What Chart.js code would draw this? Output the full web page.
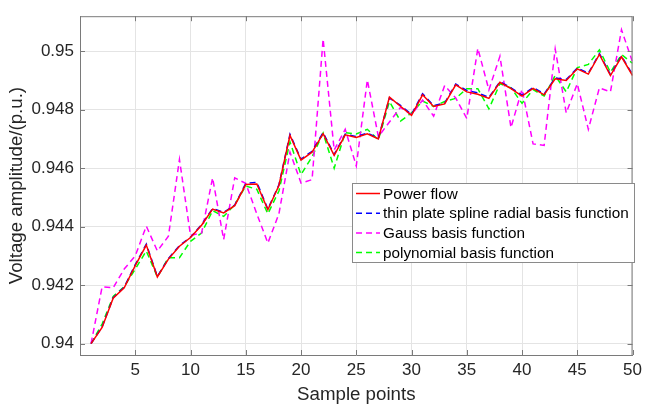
<!DOCTYPE html>
<html>
<head>
<meta charset="utf-8">
<script src="https://cdn.jsdelivr.net/npm/chart.js@4"></script>
<style>
  html, body { margin: 0; padding: 0; background: #fff; }
  canvas { display: block; }
</style>
</head>
<body>
<canvas id="chart" width="647" height="409"></canvas>
<script>
// Sample indices on the x axis
const samplePoints = [1, 2, 3, 4, 5, 6, 7, 8, 9, 10, 11, 12, 13, 14, 15, 16, 17, 18, 19, 20,
  21, 22, 23, 24, 25, 26, 27, 28, 29, 30, 31, 32, 33, 34, 35, 36, 37, 38, 39, 40,
  41, 42, 43, 44, 45, 46, 47, 48, 49, 50];

const powerFlow = [0.94000, 0.94055, 0.94155, 0.94191, 0.94267, 0.94337, 0.94228, 0.94289, 0.94333, 0.94363,
  0.94405, 0.94460, 0.94447, 0.94472, 0.94544, 0.94546, 0.94458, 0.94541, 0.94712, 0.94628,
  0.94655, 0.94718, 0.94644, 0.94714, 0.94705, 0.94718, 0.94700, 0.94843, 0.94812, 0.94781,
  0.94851, 0.94811, 0.94820, 0.94885, 0.94861, 0.94853, 0.94839, 0.94894, 0.94872, 0.94847,
  0.94873, 0.94851, 0.94906, 0.94900, 0.94940, 0.94922, 0.94989, 0.94917, 0.94981, 0.94917];

const thinPlate = [0.94000, 0.94057, 0.94157, 0.94193, 0.94270, 0.94340, 0.94230, 0.94291, 0.94335, 0.94364,
  0.94407, 0.94462, 0.94449, 0.94474, 0.94548, 0.94552, 0.94460, 0.94543, 0.94716, 0.94631,
  0.94658, 0.94722, 0.94647, 0.94717, 0.94708, 0.94720, 0.94703, 0.94840, 0.94815, 0.94784,
  0.94855, 0.94814, 0.94823, 0.94888, 0.94866, 0.94858, 0.94842, 0.94896, 0.94875, 0.94850,
  0.94876, 0.94854, 0.94909, 0.94903, 0.94943, 0.94925, 0.94992, 0.94920, 0.94984, 0.94920];

const gaussBasis = [0.94000, 0.94194, 0.94191, 0.94255, 0.94300, 0.94402, 0.94317, 0.94367, 0.94630, 0.94370,
  0.94378, 0.94567, 0.94356, 0.94567, 0.94548, 0.94444, 0.94344, 0.94444, 0.94655, 0.94549,
  0.94561, 0.95042, 0.94662, 0.94733, 0.94608, 0.94902, 0.94708, 0.94758, 0.94808, 0.94783,
  0.94833, 0.94778, 0.94883, 0.94840, 0.94770, 0.95010, 0.94868, 0.94983, 0.94739, 0.94870,
  0.94683, 0.94678, 0.95008, 0.94789, 0.94889, 0.94733, 0.94875, 0.94861, 0.95074, 0.94963];

const polynomialBasis = [0.94000, 0.94067, 0.94161, 0.94195, 0.94255, 0.94317, 0.94228, 0.94294, 0.94294, 0.94350,
  0.94378, 0.94455, 0.94435, 0.94475, 0.94539, 0.94528, 0.94444, 0.94522, 0.94690, 0.94578,
  0.94639, 0.94720, 0.94600, 0.94722, 0.94717, 0.94733, 0.94697, 0.94828, 0.94761, 0.94789,
  0.94830, 0.94811, 0.94828, 0.94839, 0.94872, 0.94872, 0.94803, 0.94889, 0.94875, 0.94822,
  0.94869, 0.94847, 0.94917, 0.94861, 0.94944, 0.94955, 0.95005, 0.94928, 0.94989, 0.94959];

const xTicks = [5, 10, 15, 20, 25, 30, 35, 40, 45, 50];
const yTicks = [0.94, 0.942, 0.944, 0.946, 0.948, 0.95];

const FONT = '"Liberation Sans", Arial, Helvetica, sans-serif';
const TEXT = '#262626';
const AXIS = '#7a7a7a';
const GRID = '#e4e4e4';

function toPoints(values) {
  return values.map((v, i) => ({ x: samplePoints[i], y: v }));
}

// box, inner tick marks and the legend, drawn the way MATLAB does
const boxPlugin = {
  id: 'matlabBox',
  afterDatasetsDraw(chart) {
    const { ctx, chartArea: a, scales } = chart;
    ctx.save();
    ctx.strokeStyle = AXIS;
    ctx.lineWidth = 1;
    ctx.beginPath();
    ctx.moveTo(a.left, a.top + 0.5);
    ctx.lineTo(a.right, a.top + 0.5);
    ctx.moveTo(a.right - 0.5, a.top);
    ctx.lineTo(a.right - 0.5, a.bottom);
    const len = 5;
    xTicks.forEach(v => {
      const px = Math.round(scales.x.getPixelForValue(v)) + 0.5;
      ctx.moveTo(px, a.bottom); ctx.lineTo(px, a.bottom - len);
      ctx.moveTo(px, a.top); ctx.lineTo(px, a.top + len);
    });
    yTicks.forEach(v => {
      const py = Math.round(scales.y.getPixelForValue(v)) + 0.5;
      ctx.moveTo(a.left, py); ctx.lineTo(a.left + len, py);
      ctx.moveTo(a.right, py); ctx.lineTo(a.right - len, py);
    });
    ctx.stroke();
    ctx.restore();
  },
  afterDraw(chart) {
    const { ctx } = chart;
    const box = { left: 352, top: 183, width: 282, height: 79 };
    ctx.save();
    ctx.fillStyle = '#fff';
    ctx.fillRect(box.left, box.top, box.width, box.height);
    ctx.strokeStyle = '#8a8a8a';
    ctx.lineWidth = 1;
    ctx.strokeRect(box.left + 0.5, box.top + 0.5, box.width, box.height);
    ctx.font = '15.3px ' + FONT;
    ctx.textBaseline = 'middle';
    chart.data.datasets.forEach((ds, i) => {
      const y = box.top + 10.5 + i * 19.7;
      ctx.strokeStyle = ds.borderColor;
      ctx.lineWidth = ds.borderWidth;
      ctx.setLineDash(ds.borderDash || []);
      ctx.beginPath();
      ctx.moveTo(box.left + 4, y);
      ctx.lineTo(box.left + 28, y);
      ctx.stroke();
      ctx.setLineDash([]);
      ctx.fillStyle = '#000';
      ctx.fillText(ds.label, box.left + 31, y + 1);
    });
    ctx.restore();
  }
};

const ctx = document.getElementById('chart').getContext('2d');
const chart = new Chart(ctx, {
  type: 'line',
  data: {
    datasets: [
      { label: 'Power flow', data: toPoints(powerFlow), borderColor: '#ff0000', borderWidth: 1.5 },
      { label: 'thin plate spline radial basis function', data: toPoints(thinPlate), borderColor: '#0000ff', borderWidth: 1.5, borderDash: [6, 4] },
      { label: 'Gauss basis function', data: toPoints(gaussBasis), borderColor: '#ff00ff', borderWidth: 1.5, borderDash: [6, 4] },
      { label: 'polynomial basis function', data: toPoints(polynomialBasis), borderColor: '#00ff00', borderWidth: 1.5, borderDash: [6, 4] }
    ]
  },
  options: {
    responsive: false,
    animation: false,
    layout: { padding: { top: 7, right: 9, left: 0, bottom: 0 } },
    elements: { point: { radius: 0 }, line: { tension: 0, fill: false } },
    plugins: { legend: { display: false }, tooltip: { enabled: false } },
    scales: {
      x: {
        type: 'linear',
        min: 0,
        max: 50,
        afterBuildTicks: s => { s.ticks = xTicks.map(v => ({ value: v })); },
        afterFit: s => { s.height = 54; },
        grid: { color: GRID, drawTicks: false },
        border: { display: true, color: AXIS },
        ticks: { font: { family: FONT, size: 17 }, color: TEXT, padding: 5, maxRotation: 0 },
        title: { display: true, text: 'Sample points', font: { family: FONT, size: 18.7 }, color: TEXT, padding: { top: 0, bottom: 3 } }
      },
      y: {
        min: 0.93961,
        max: 0.9512,
        afterBuildTicks: s => { s.ticks = yTicks.map(v => ({ value: v })); },
        afterFit: s => { s.width = 80; },
        grid: { color: GRID, drawTicks: false },
        border: { display: true, color: AXIS },
        ticks: {
          font: { family: FONT, size: 17 },
          color: TEXT,
          padding: 6,
          callback: v => String(Number(v.toFixed(3)))
        },
        title: { display: true, text: 'Voltage amplitude/(p.u.)', font: { family: FONT, size: 18.7 }, color: TEXT, padding: { top: 6, bottom: 0 } }
      }
    }
  },
  plugins: [boxPlugin]
});
</script>
</body>
</html>
